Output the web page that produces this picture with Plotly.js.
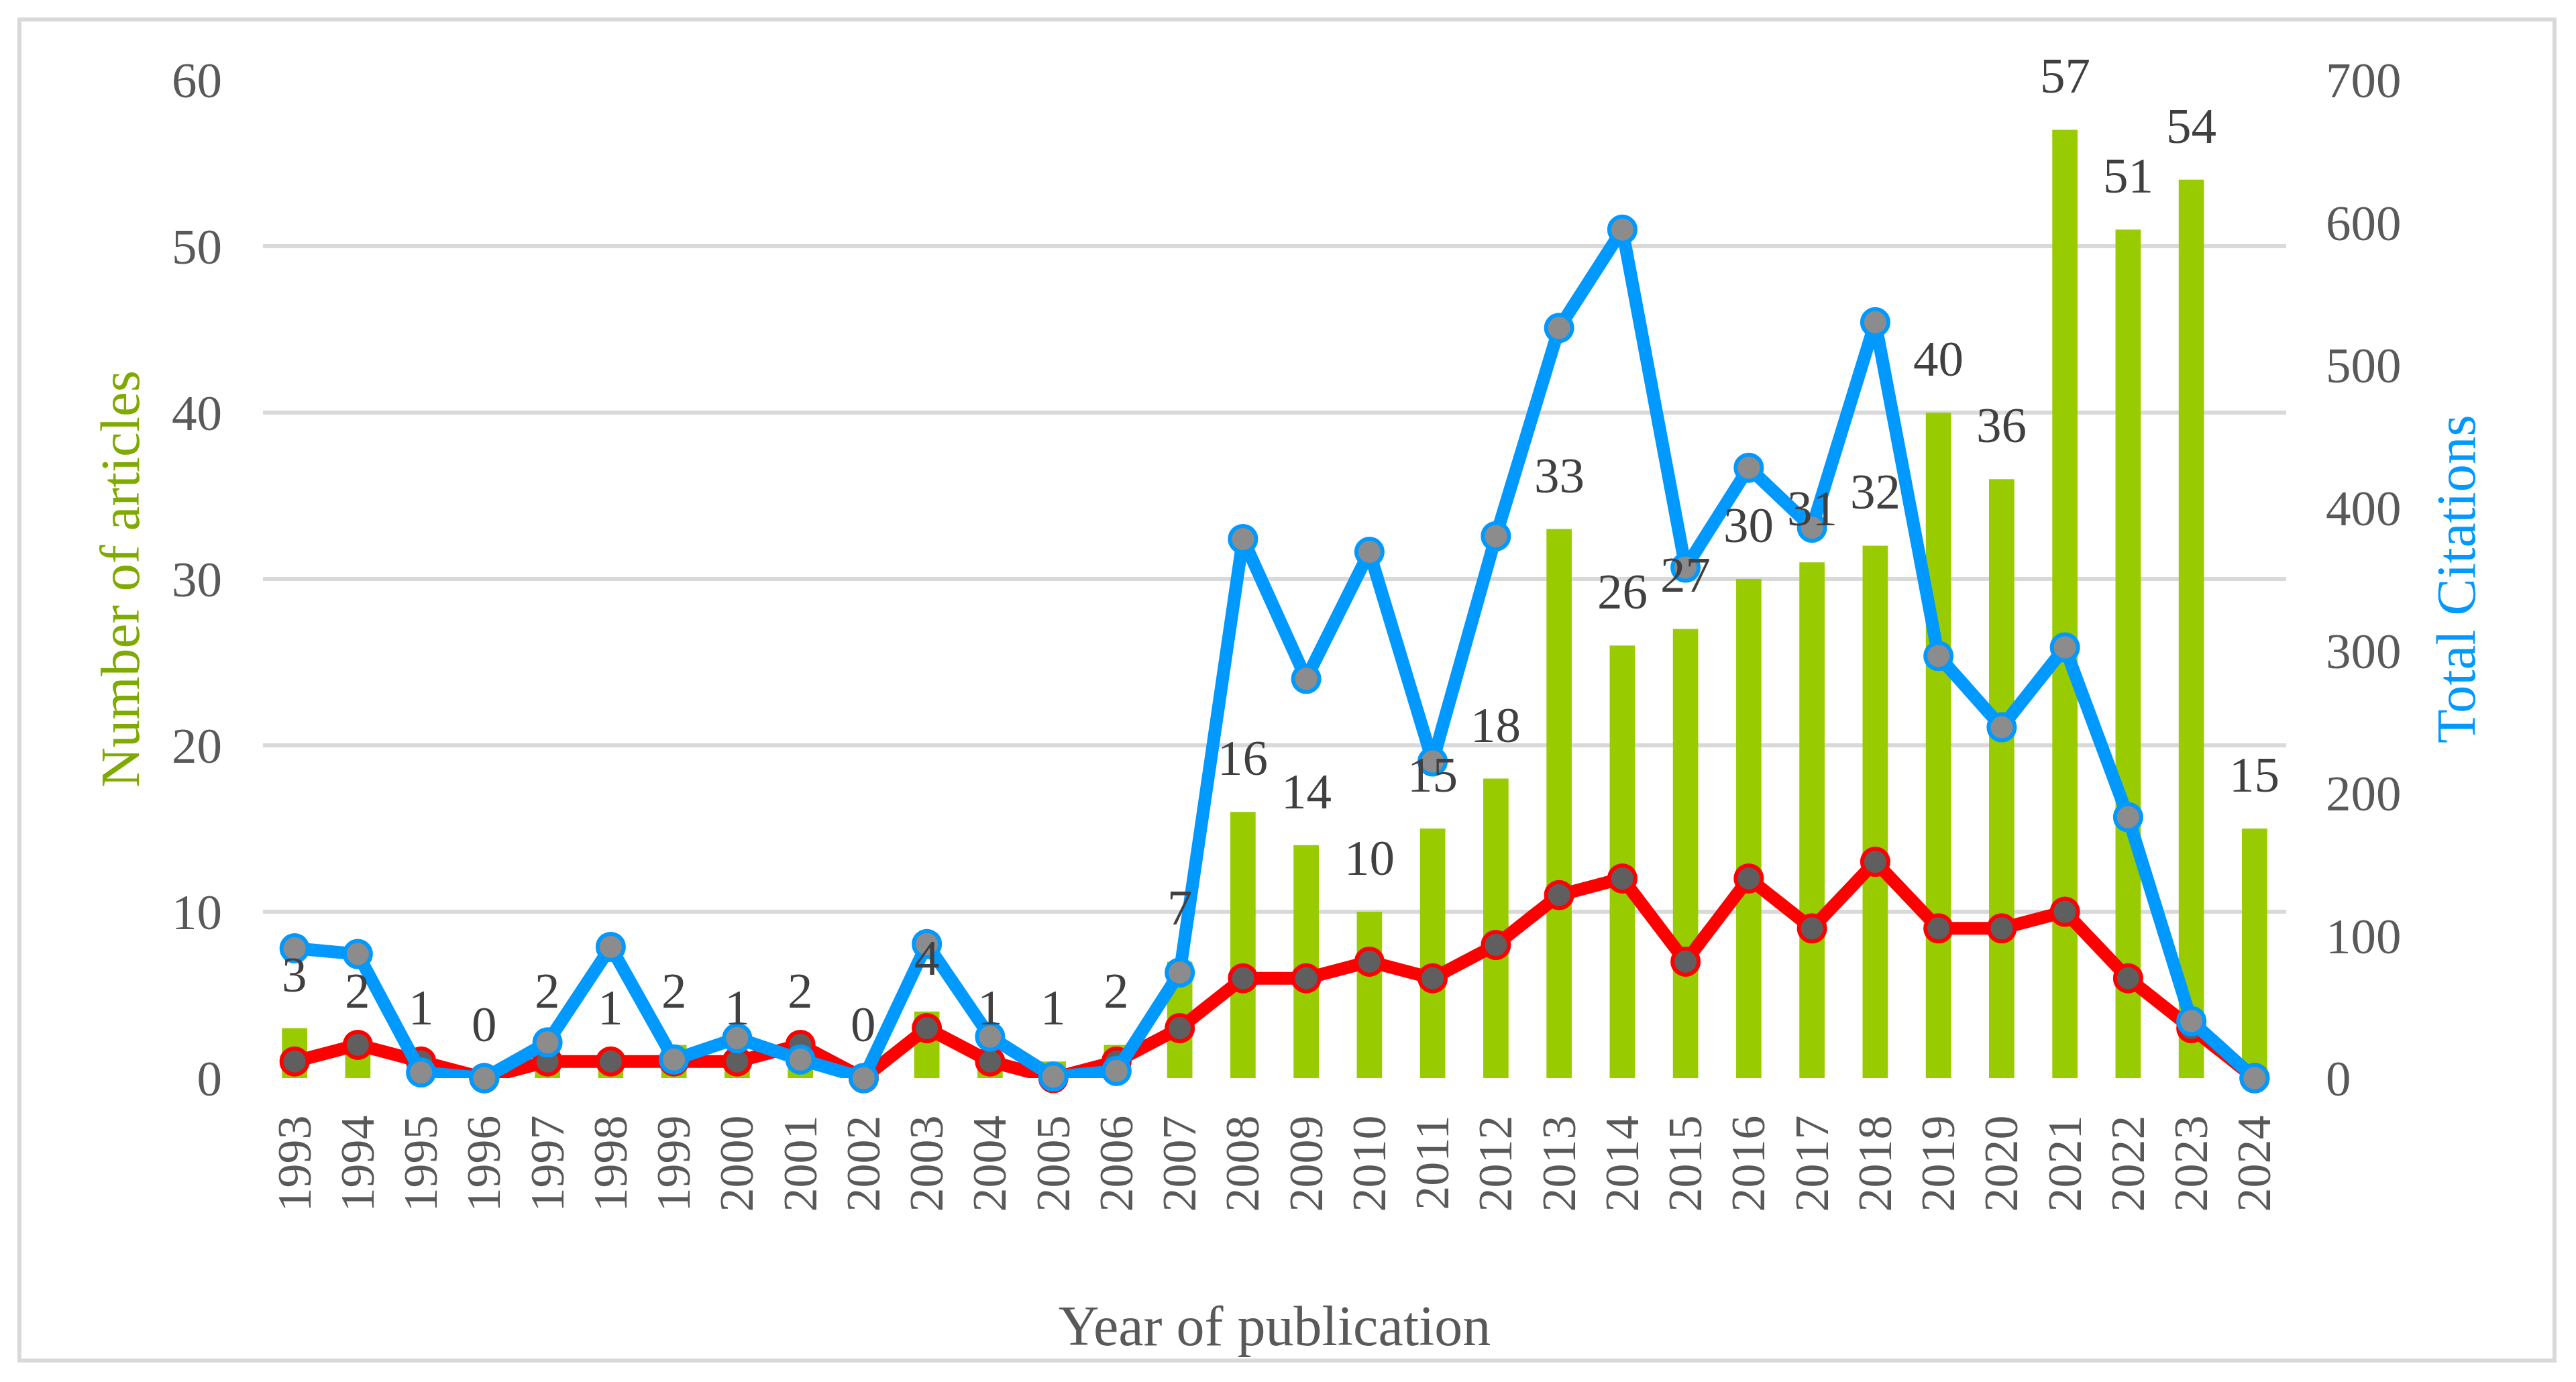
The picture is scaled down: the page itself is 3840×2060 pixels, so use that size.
<!DOCTYPE html>
<html>
<head>
<meta charset="utf-8">
<script src="https://cdn.plot.ly/plotly-3.0.1.min.js"></script>
<style>
  html, body { margin: 0; padding: 0; background: #ffffff; }
  #chart { width: 3840px; height: 2060px; }
</style>
</head>
<body>
<div id="chart"></div>
<script>
// ---- data ----
const years = ["1993","1994","1995","1996","1997","1998","1999","2000","2001","2002",
               "2003","2004","2005","2006","2007","2008","2009","2010","2011","2012",
               "2013","2014","2015","2016","2017","2018","2019","2020","2021","2022",
               "2023","2024"];
const articles = [3,2,1,0,2,1,2,1,2,0,4,1,1,2,7,16,14,10,15,18,33,26,27,30,31,32,40,36,57,51,54,15];
const redSeries = [1,2,1,0,1,1,1,1,2,0,3,1,0,1,3,6,6,7,6,8,11,12,7,12,9,13,9,9,10,6,3,0];
const citations = [91,87,4,0,25,92,13,28,13,0,94,29,1,5,74,378,280,369,222,380,526,595,358,428,386,530,296,246,302,183,40,0];
const leftTicks = [0,10,20,30,40,50,60];
const rightTicks = [0,100,200,300,400,500,600,700];

const FONT = "Liberation Serif, Times New Roman, serif";
const GRID = "#D9D9D9";
const TICKC = "#595959";

const traces = [
  {
    type: "bar", x: years, y: articles, name: "Number of articles",
    marker: { color: "#99CC00" }, width: 0.4, hoverinfo: "x+y"
  },
  {
    type: "scatter", mode: "lines+markers", x: years, y: redSeries, name: "series",
    line: { color: "#FF0000", width: 19 },
    marker: { size: 39, color: "#5F5F5F", line: { color: "#FF0000", width: 6 } },
    cliponaxis: false
  },
  {
    type: "scatter", mode: "lines+markers", x: years, y: citations, yaxis: "y2", name: "Total Citations",
    line: { color: "#0099FF", width: 19 },
    marker: { size: 39, color: "#8C8C8C", line: { color: "#0099FF", width: 6 } },
    cliponaxis: false
  }
];

// data labels above the bars (x given as category index)
const annotations = years.map((yr, i) => ({
  x: i, y: articles[i], xref: "x", yref: "y",
  text: String(articles[i]), showarrow: false,
  xanchor: "center", yanchor: "bottom", yshift: 37,
  font: { family: FONT, size: 75, color: "#404040" }
}));

const layout = {
  width: 3840, height: 2060,
  margin: { l: 392, r: 432, t: 119, b: 453, pad: 0 },
  paper_bgcolor: "#ffffff", plot_bgcolor: "rgba(0,0,0,0)",
  showlegend: false,
  bargap: 0.6,
  font: { family: FONT, color: TICKC },
  xaxis: {
    type: "category", categoryorder: "array", categoryarray: years,
    range: [-0.5, years.length - 0.5], autorange: false,
    tickangle: -90, ticks: "", showgrid: false, zeroline: false, showline: false,
    tickfont: { family: FONT, size: 72, color: TICKC },
    ticklabelstandoff: 40,
    title: { text: "Year of publication", font: { family: FONT, size: 84, color: TICKC }, standoff: 140 }
  },
  yaxis: {
    range: [0, 60], autorange: false, tickvals: leftTicks, ticktext: leftTicks.map(String), ticks: "",
    showgrid: true, gridcolor: GRID, gridwidth: 6, zeroline: false, showline: false,
    tickfont: { family: FONT, size: 75, color: TICKC },
    ticklabelstandoff: 60,
    title: { text: "Number of articles", font: { family: FONT, size: 83, color: "#7FAA00" }, standoff: 20 }
  },
  yaxis2: {
    range: [0, 700], autorange: false, tickvals: rightTicks, ticktext: rightTicks.map(String), ticks: "",
    overlaying: "y", side: "right", showgrid: false, zeroline: false, showline: false,
    tickfont: { family: FONT, size: 75, color: TICKC },
    ticklabelstandoff: 58,
    title: { text: "Total Citations", font: { family: FONT, size: 83, color: "#0099FF" }, standoff: 52 }
  },
  annotations: annotations,
  shapes: [{
    type: "rect", xref: "paper", yref: "paper",
    x0: -0.1204, x1: 1.1326, y0: -0.2829, y1: 1.0605,
    line: { color: GRID, width: 6 }, fillcolor: "rgba(0,0,0,0)", layer: "below"
  }]
};

Plotly.newPlot("chart", traces, layout, { staticPlot: true, displayModeBar: false });
</script>
</body>
</html>
